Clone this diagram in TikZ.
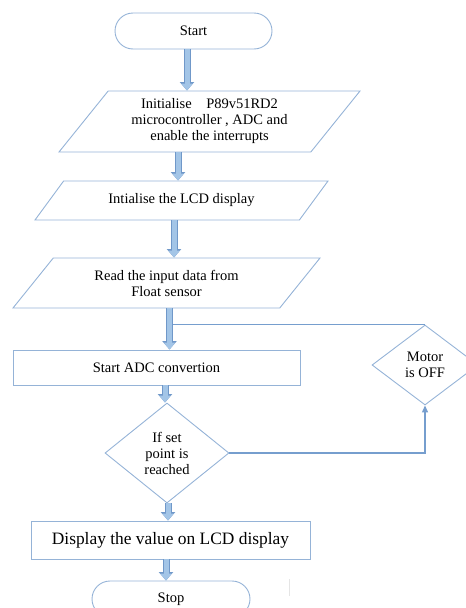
\documentclass[tikz,border=0pt]{standalone}
\usepackage{fontspec}
\setmainfont{Liberation Serif}
\usetikzlibrary{shapes.geometric,arrows.meta,calc}

\definecolor{boxblue}{RGB}{149,179,215}
\definecolor{arrowfill}{RGB}{163,197,231}
\definecolor{arrowedge}{RGB}{112,152,201}
\definecolor{lineblue}{RGB}{118,158,206}

\tikzset{
  base/.style={draw=boxblue, line width=0.9pt, align=center,
    font=\fontsize{14.5}{16}\selectfont, inner sep=2pt},
  terminal/.style={base, rounded corners=18pt, minimum width=157pt, minimum height=36pt},
  io/.style={base, trapezium, trapezium stretches body},
  process/.style={base, rectangle},
  decision/.style={base, diamond},
  blk/.style={draw=arrowfill, line width=5pt, -{Triangle[length=7pt,width=11pt]},
    preaction={draw=arrowedge, line width=7pt, -{Triangle[length=8.5pt,width=14pt]}}},
  link/.style={draw=lineblue, line width=1.3pt}
}

\begin{document}
\begin{tikzpicture}[x=1pt,y=-1pt]
  \path[use as bounding box, clip] (0,0) rectangle (466,608);

  \node[terminal] (start) at (193.5,31) {Start};
  \node[io, trapezium left angle=45, trapezium right angle=135,
    minimum width=301pt, minimum height=61pt] (init) at (209.5,121.5)
    {Initialise\quad P89v51RD2\\ microcontroller , ADC and\\ enable the interrupts};
  \node[io, trapezium left angle=31, trapezium right angle=149,
    minimum width=293pt, minimum height=39pt] (lcd) at (181.5,200.5)
    {Intialise the LCD display};
  \node[io, trapezium left angle=37, trapezium right angle=143,
    minimum width=307pt, minimum height=50pt] (read) at (166.5,283)
    {Read the input data from\\ Float sensor};
  \node[process, minimum width=287pt, minimum height=35pt] (adc) at (156.5,367.5)
    {Start ADC convertion};
  \node[decision, minimum width=124pt, minimum height=100pt] (check) at (167,453)
    {If set\\ point is\\ reached};
  \node[decision, minimum width=106pt, minimum height=80pt] (motor) at (425,365)
    {Motor\\ is OFF};
  \node[process, font=\fontsize{17.4}{20}\selectfont, minimum width=279pt,
    minimum height=38pt] (show) at (170.5,540) {Display the value on LCD display};
  \node[terminal, minimum width=158pt] (stop) at (171,599) {Stop};

  % main flow
  \draw[blk] ([xshift=-6.5pt]start.south) -- ([xshift=-6.5pt]start.south |- init.north);
  \draw[blk] ([xshift=-31.5pt]init.south) -- ([xshift=-31.5pt]init.south |- lcd.north);
  \draw[blk] ([xshift=-7.5pt]lcd.south) -- ([xshift=-7.5pt]lcd.south |- read.north);
  \draw[blk] ([xshift=3pt]read.south) -- ([xshift=3pt]read.south |- adc.north);
  \draw[blk] ([xshift=8.5pt]adc.south) -- ([xshift=8.5pt]adc.south |- check.north);
  \draw[blk] ([xshift=1pt]check.south) -- ([xshift=1pt]check.south |- show.north);
  \draw[blk] ([xshift=-4.5pt]show.south) -- ([xshift=-4.5pt]show.south |- stop.north);

  % motor branch
  \coordinate (tap) at ([xshift=6pt]read.south |- motor.north);
  \draw[link] (tap) -- (motor.north);
  \draw[link, -{Triangle[length=7pt,width=6pt]}] (check.east) -| (motor.south);

  \draw[black!10, line width=1pt] (289,579) -- (289,596);
\end{tikzpicture}
\end{document}
